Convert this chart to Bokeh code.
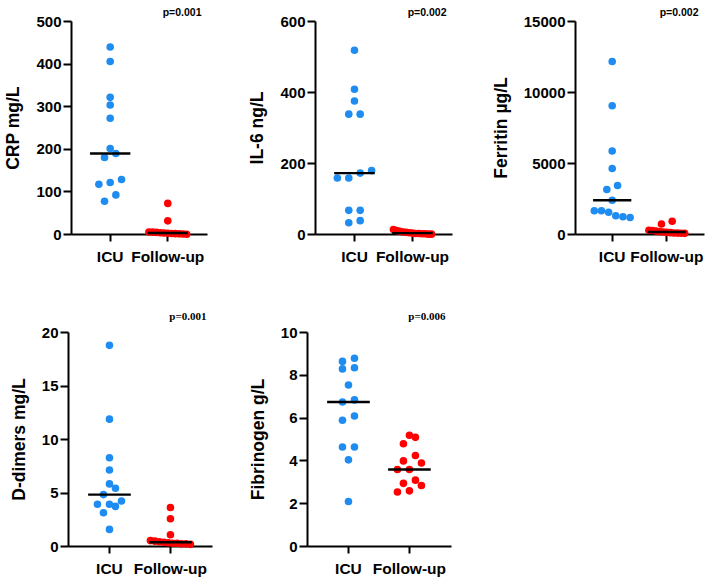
import numpy as np
from bokeh.plotting import figure
from bokeh.models import FixedTicker, Range1d
from bokeh.layouts import row, column
from bokeh.embed import file_html
from bokeh.resources import INLINE

# ---------------- data ----------------
groups = ["ICU", "Follow-up"]

crp_icu = [440, 406, 322, 304, 273, 202, 190, 181, 129, 122, 118, 93, 78]
crp_fu = [73, 32, 6, 5.5, 5, 4, 3.5, 3, 2.5, 2, 1.5, 1, 0.5]

il6_icu = [519, 409, 376, 339, 339, 180, 173, 159, 159, 68, 68, 39, 33]
il6_fu = [14, 11, 9, 7, 6, 5, 4, 3, 3, 2, 2, 1, 1]

fer_icu = [12180, 9070, 5880, 4650, 3450, 3170, 2410, 1670, 1670, 1570, 1320, 1250, 1200]
fer_fu = [930, 740, 300, 280, 250, 200, 180, 150, 130, 110, 100, 90, 80]

dd_icu = [18.8, 11.9, 8.3, 7.15, 5.85, 5.45, 4.85, 4.25, 3.95, 3.95, 3.75, 3.15, 1.6]
dd_fu = [3.65, 2.6, 1.1, 0.55, 0.5, 0.45, 0.4, 0.35, 0.3, 0.3, 0.25, 0.25, 0.2]

fib_icu = [8.8, 8.65, 8.35, 8.3, 7.55, 6.85, 6.75, 6.1, 5.9, 4.65, 4.65, 4.05, 2.1]
fib_fu = [5.2, 5.1, 4.8, 4.25, 4.0, 3.9, 3.6, 3.6, 3.1, 2.95, 2.85, 2.6, 2.55]

y_labels = ["CRP mg/L", "IL-6 ng/L", "Ferritin µg/L", "D-dimers mg/L", "Fibrinogen g/L"]
y_max = [500, 600, 15000, 20, 10]
y_step = [100, 200, 5000, 5, 2]
p_values = ["p=0.001", "p=0.002", "p=0.002", "p=0.001", "p=0.006"]

BLUE = "#1E8CF0"
RED = "#FE0000"
SANS = "Liberation Sans"
SERIF = "Liberation Serif"
X0, X1 = 0.328, 2.69


def swarm(vals, ppu_y, ppu_x, thr=7.5, step=12.0, maxw=40.0):
    vals = np.asarray(vals, float)
    order = np.argsort(vals, kind="stable")
    offs = np.zeros(len(vals))
    rows, cur = [], []
    for i in order:
        if cur and (vals[i] - vals[cur[0]]) * ppu_y > thr:
            rows.append(cur)
            cur = []
        cur.append(i)
    if cur:
        rows.append(cur)
    for r in rows:
        n = len(r)
        s = step if n < 2 else min(step, maxw / (n - 1))
        if n >= 5:
            r = r[::-1]  # dense clusters: larger values to the left
        for k, i in enumerate(r):
            offs[i] = (k - (n - 1) / 2) * s / ppu_x
    return offs


def panel(idx, icu, fu, w, h, bl, br, bt, bb, pfont, pstand, psize):
    ymax = y_max[idx]
    frame_h = h - bt - bb
    frame_w = w - bl - br
    ppu_y = frame_h / ymax
    ppu_x = frame_w / (X1 - X0)

    p = figure(width=w, height=h, output_backend="svg", toolbar_location=None,
               x_range=Range1d(X0, X1), y_range=Range1d(0, ymax),
               min_border_left=bl, min_border_right=br,
               min_border_top=bt, min_border_bottom=bb)
    p.grid.visible = False
    p.outline_line_color = None

    for k, (vals, col) in enumerate([(icu, BLUE), (fu, RED)]):
        xc = k + 1
        xs = xc + swarm(vals, ppu_y, ppu_x)
        p.scatter(xs, vals, size=7.6, color=col, line_color=None, level="overlay")
    for k, vals in enumerate([icu, fu]):
        xc = k + 1
        m = float(np.median(vals))
        p.segment(x0=[xc - 0.35], x1=[xc + 0.35], y0=[m], y1=[m],
                  line_color="black", line_width=2.4, level="overlay")

    ya = p.yaxis[0]
    ya.ticker = FixedTicker(ticks=list(range(0, ymax + 1, y_step[idx])))
    ya.axis_label = y_labels[idx]
    ya.major_label_standoff = 2
    ya.major_tick_out = 8
    ya.axis_label_standoff = 10
    ya.major_label_text_font_size = "15px"

    xa = p.xaxis[0]
    xa.ticker = FixedTicker(ticks=[1, 2])
    xa.major_label_overrides = {1: groups[0], 2: groups[1]}
    xa.major_label_standoff = 6
    xa.major_tick_out = 7
    xa.major_label_text_font_size = "15.5px"

    for ax in (xa, ya):
        ax.axis_line_width = 2
        ax.axis_line_color = "black"
        ax.major_tick_line_width = 2
        ax.major_tick_line_color = "black"
        ax.major_tick_in = 0
        ax.minor_tick_out = 0
        ax.minor_tick_in = 0
        ax.major_label_text_font = SANS
        ax.major_label_text_font_style = "bold"
        ax.major_label_text_color = "black"
        ax.axis_label_text_font = SANS
        ax.axis_label_text_font_style = "bold"
        ax.axis_label_text_font_size = "17.5px"
        ax.axis_label_text_color = "black"

    p.title.text = p_values[idx]
    p.title.align = "right"
    p.title.offset = 6
    p.title.standoff = pstand
    p.title.text_font = pfont
    p.title.text_font_style = "bold"
    p.title.text_font_size = psize
    p.title.text_color = "black"
    return p


TOP_H, BOT_H = 290, 289
f1 = panel(0, crp_icu, crp_fu, 244, TOP_H, 63, 37, 20, 56, SANS, 7, "10.5px")
f2 = panel(1, il6_icu, il6_fu, 243, TOP_H, 64, 35, 20, 56, SANS, 7, "10.5px")
f3 = panel(2, fer_icu, fer_fu, 222, TOP_H, 73, 5, 20, 56, SANS, 7, "10.5px")
f4 = panel(3, dd_icu, dd_fu, 244, BOT_H, 68, 32, 42, 32, SERIF, 21, "11px")
f5 = panel(4, fib_icu, fib_fu, 227, BOT_H, 63, 20, 42, 32, SERIF, 21, "11px")

layout = column(row(f1, f2, f3), row(f4, f5))
open("out.html", "w").write(file_html(layout, INLINE))
